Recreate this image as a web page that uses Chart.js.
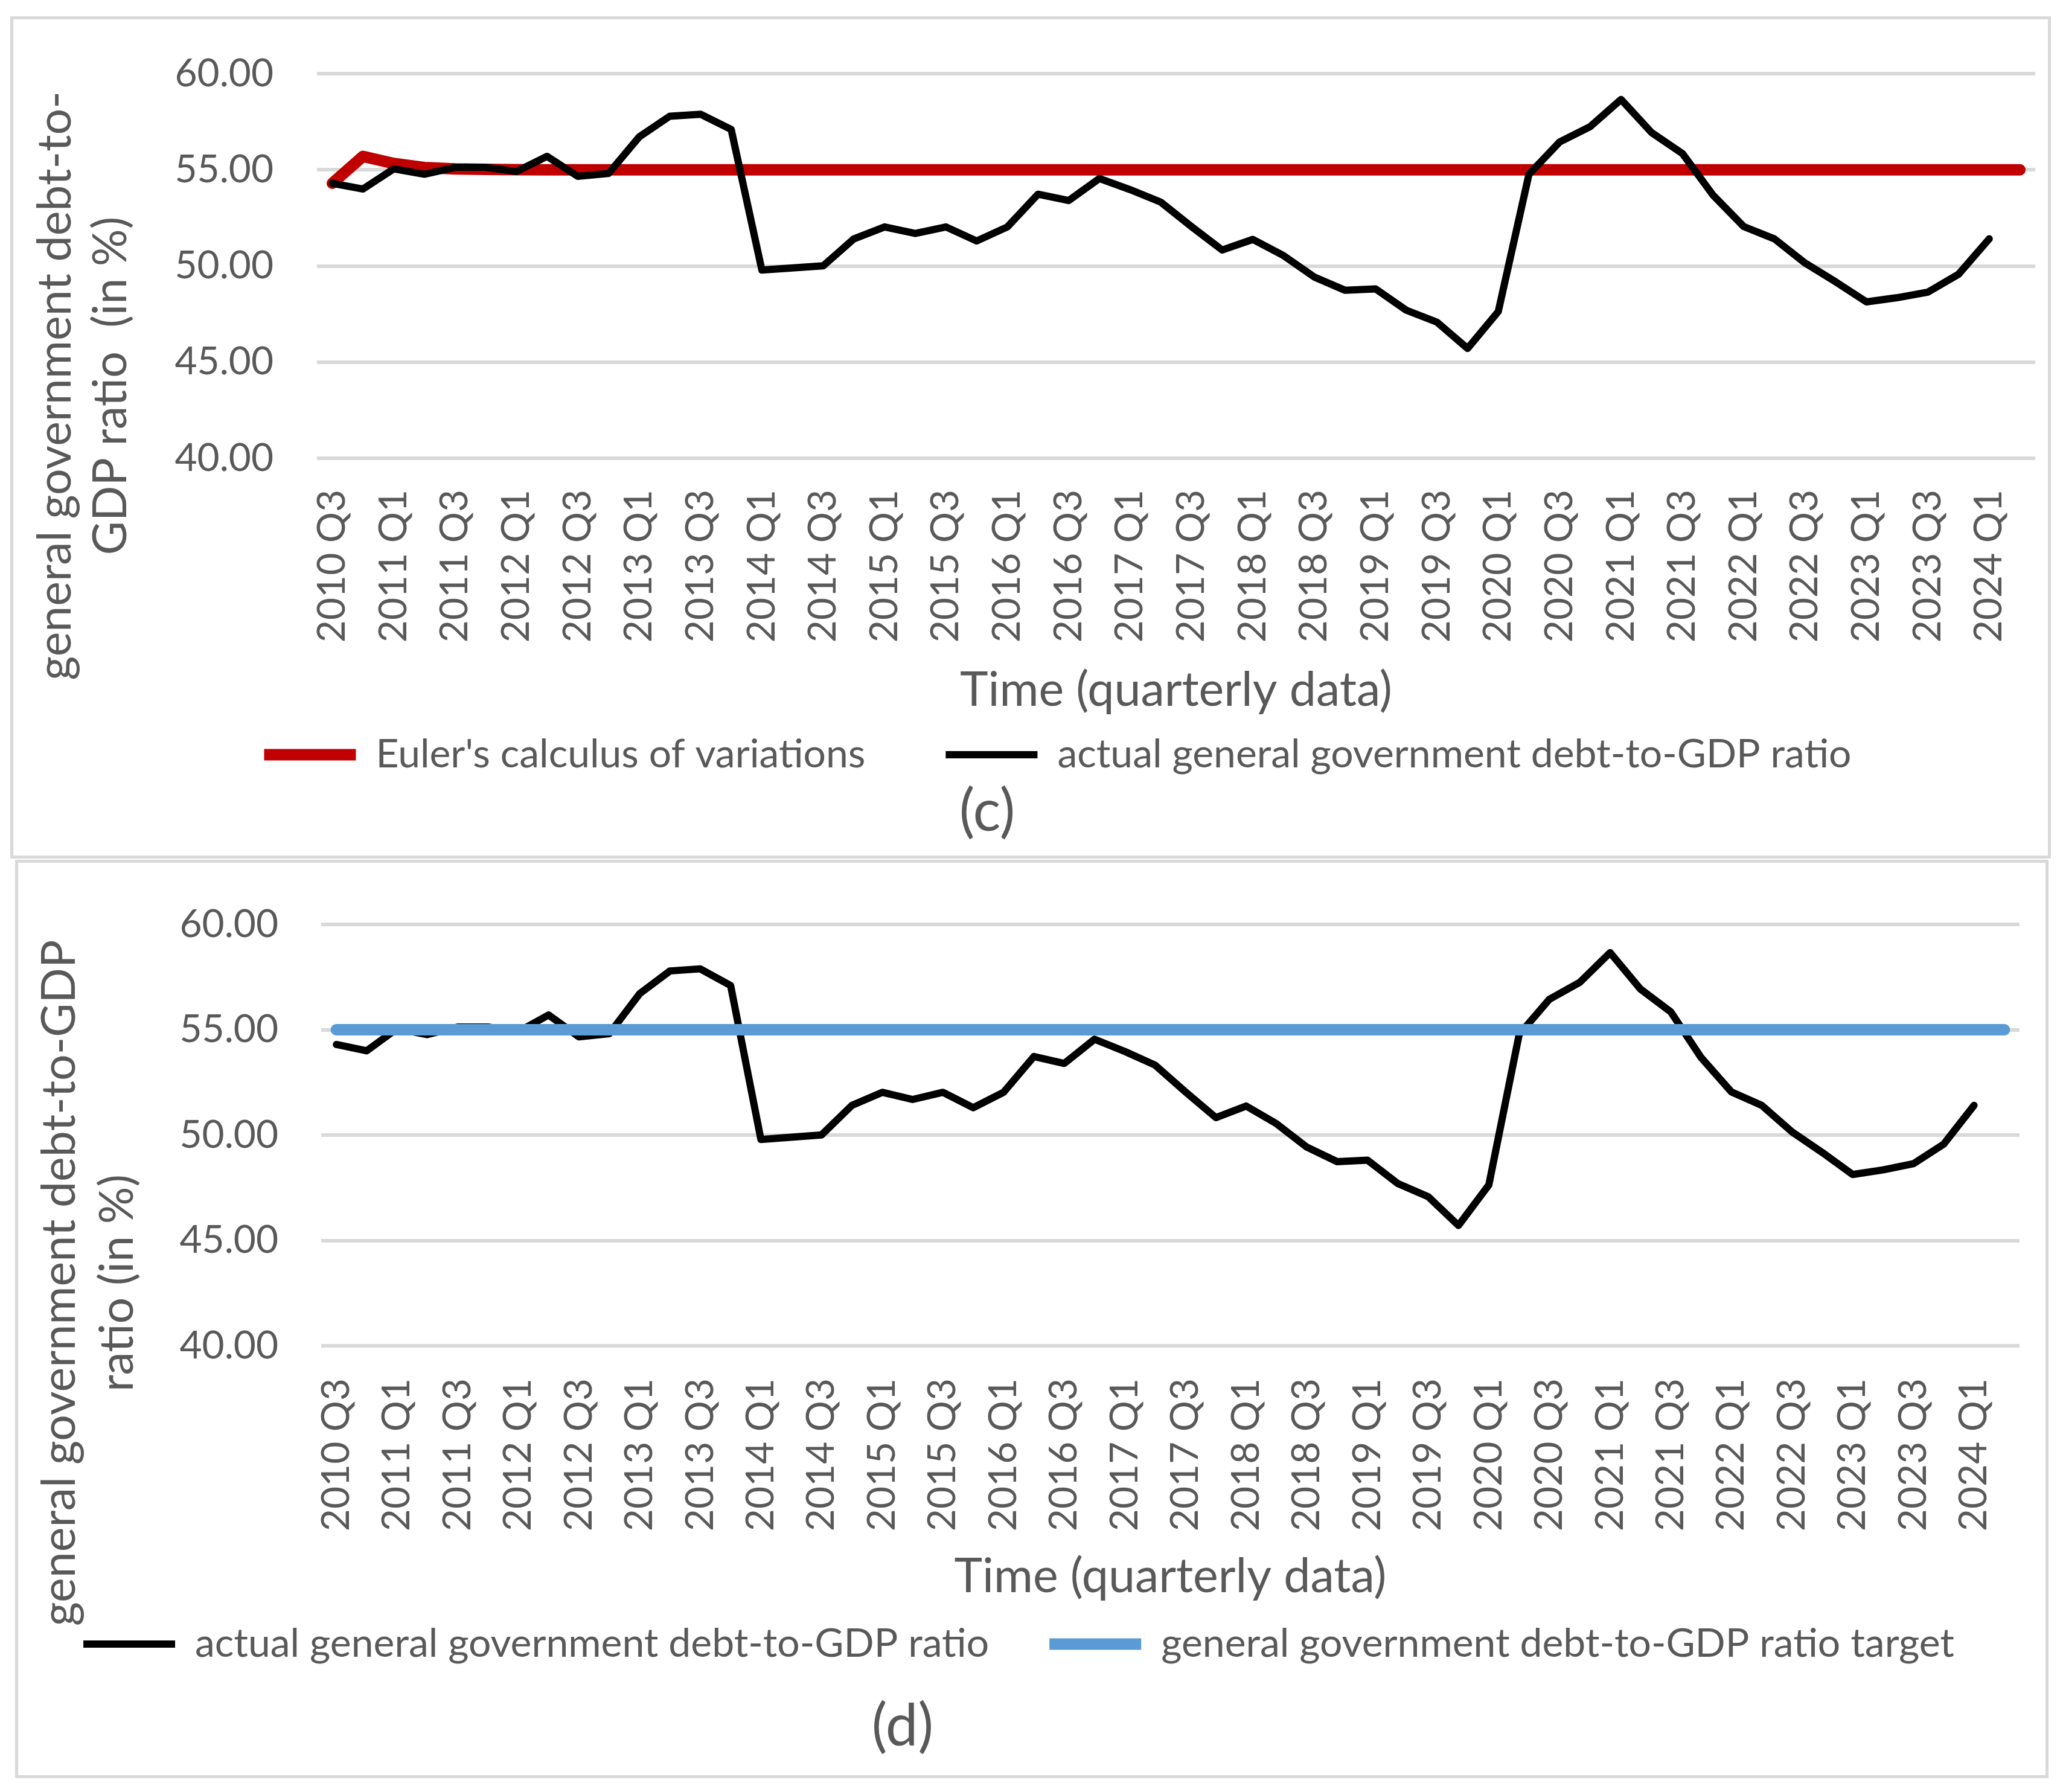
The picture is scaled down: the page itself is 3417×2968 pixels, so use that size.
<!DOCTYPE html>
<html>
<head>
<meta charset="utf-8">
<title>general government debt-to-GDP ratio</title>
<script src="https://cdn.jsdelivr.net/npm/chart.js@4.4.1/dist/chart.umd.min.js"></script>
<style>
  html, body { margin: 0; padding: 0; background: #fff; }
  body { width: 3417px; height: 2968px; position: relative; overflow: hidden; }
  .panel { position: absolute; box-sizing: border-box; border: 5px solid #d9d9d9; background: #fff; }
  #panelC { left: 17px; top: 27px; width: 3380px; height: 1395px; }
  #panelD { left: 25px; top: 1424px; width: 3368px; height: 1521px; }
  canvas { display: block; }
</style>
</head>
<body>
<div class="panel" id="panelC"><canvas id="chartC" width="3370" height="1385" style="width:3370px;height:1385px"></canvas></div>
<div class="panel" id="panelD"><canvas id="chartD" width="3358" height="1511" style="width:3358px;height:1511px"></canvas></div>
<script>
// 季度类目（2010 Q3 – 2024 Q2）
const quarters = [
    '2010 Q3', '2010 Q4',
    '2011 Q1', '2011 Q2', '2011 Q3', '2011 Q4',
    '2012 Q1', '2012 Q2', '2012 Q3', '2012 Q4',
    '2013 Q1', '2013 Q2', '2013 Q3', '2013 Q4',
    '2014 Q1', '2014 Q2', '2014 Q3', '2014 Q4',
    '2015 Q1', '2015 Q2', '2015 Q3', '2015 Q4',
    '2016 Q1', '2016 Q2', '2016 Q3', '2016 Q4',
    '2017 Q1', '2017 Q2', '2017 Q3', '2017 Q4',
    '2018 Q1', '2018 Q2', '2018 Q3', '2018 Q4',
    '2019 Q1', '2019 Q2', '2019 Q3', '2019 Q4',
    '2020 Q1', '2020 Q2', '2020 Q3', '2020 Q4',
    '2021 Q1', '2021 Q2', '2021 Q3', '2021 Q4',
    '2022 Q1', '2022 Q2', '2022 Q3', '2022 Q4',
    '2023 Q1', '2023 Q2', '2023 Q3', '2023 Q4',
    '2024 Q1', '2024 Q2'
];

// 横轴上显示的标签（每隔一个季度）
const xTickLabels = [
    '2010 Q3', '2011 Q1', '2011 Q3', '2012 Q1', '2012 Q3', '2013 Q1', '2013 Q3',
    '2014 Q1', '2014 Q3', '2015 Q1', '2015 Q3', '2016 Q1', '2016 Q3', '2017 Q1',
    '2017 Q3', '2018 Q1', '2018 Q3', '2019 Q1', '2019 Q3', '2020 Q1', '2020 Q3',
    '2021 Q1', '2021 Q3', '2022 Q1', '2022 Q3', '2023 Q1', '2023 Q3', '2024 Q1'
];

// 纵轴刻度
const yTicks = [40, 45, 50, 55, 60];

// 实际债务率（到 2024 Q1）
const actualDebt = [
    54.30, 54.00, 55.05, 54.77, 55.13, 55.13, 54.91, 55.70, 54.66, 54.81,
    56.71, 57.79, 57.89, 57.10, 49.79, 49.90, 50.01, 51.41, 52.03, 51.69,
    52.03, 51.30, 52.03, 53.73, 53.40, 54.55, 53.97, 53.32, 52.05, 50.83,
    51.38, 50.54, 49.43, 48.74, 48.81, 47.70, 47.08, 45.71, 47.63, 54.77,
    56.45, 57.25, 58.66, 56.93, 55.85, 53.68, 52.05, 51.41, 50.15, 49.17,
    48.13, 48.35, 48.64, 49.57, 51.41
];

// 欧拉变分法路径
const eulerPath = [
    54.30, 55.70, 55.33, 55.12, 55.05, 55.02, 55.01, 55.00, 55.00, 55.00,
    55.00, 55.00, 55.00, 55.00, 55.00, 55.00, 55.00, 55.00, 55.00, 55.00,
    55.00, 55.00, 55.00, 55.00, 55.00, 55.00, 55.00, 55.00, 55.00, 55.00,
    55.00, 55.00, 55.00, 55.00, 55.00, 55.00, 55.00, 55.00, 55.00, 55.00,
    55.00, 55.00, 55.00, 55.00, 55.00, 55.00, 55.00, 55.00, 55.00, 55.00,
    55.00, 55.00, 55.00, 55.00, 55.00, 55.00
];

// 债务率目标
const debtTarget = [
    55, 55, 55, 55, 55, 55, 55, 55, 55, 55,
    55, 55, 55, 55, 55, 55, 55, 55, 55, 55,
    55, 55, 55, 55, 55, 55, 55, 55, 55, 55,
    55, 55, 55, 55, 55, 55, 55, 55, 55, 55,
    55, 55, 55, 55, 55, 55, 55, 55, 55, 55,
    55, 55, 55, 55, 55, 55
];

// 样式
const TEXT_COLOR = '#595959';
const GRID_COLOR = '#d9d9d9';
const FONT_FAMILY = 'Lato, "Open Sans", sans-serif';
const TICK_SIZE = 64;
const LEGEND_SIZE = 66;
const X_TITLE_SIZE = 79;
const Y_TITLE_SIZE = 77;
const TAG_SIZE = 96;

// 画布上的版面位置（像素）
const panelLayouts = {
    c: {
        width: 3370, height: 1385, padLeft: 111,
        plotLeft: 503, plotRight: 3349, plotTop: 90, plotBottom: 727,
        xTickPad: 52, yTickPad: 72, xTitleY: 1112,
        legendY: 1218, legendGap: 133,
        yTitle: ['general government debt-to-', 'GDP ratio  (in %)'],
        yTitleX: 70, yTitleGap: 92, yTitleY: 607,
        tag: '(c)', tagX: 1613, tagY: 1313
    },
    d: {
        width: 3358, height: 1511, padLeft: 0,
        plotLeft: 502, plotRight: 3315, plotTop: 102, plotBottom: 800,
        xTickPad: 54, yTickPad: 71, xTitleY: 1183,
        legendY: 1294, legendGap: 100,
        yTitle: ['general government debt-to-GDP', 'ratio (in %)'],
        yTitleX: 69, yTitleGap: 96, yTitleY: 696,
        tag: '(d)', tagX: 1465, tagY: 1431
    }
};

// 纵轴标题与面板编号
const panelTextPlugin = {
    id: 'panelText',
    afterDraw(chart, args, opts) {
        const ctx = chart.ctx;
        ctx.save();
        ctx.fillStyle = TEXT_COLOR;
        ctx.textAlign = 'center';
        ctx.textBaseline = 'middle';

        ctx.save();
        ctx.font = Y_TITLE_SIZE + 'px ' + FONT_FAMILY;
        ctx.translate(opts.yTitleX, opts.yTitleY);
        ctx.rotate(-Math.PI / 2);
        opts.yTitle.forEach((line, i) => ctx.fillText(line, 0, i * opts.yTitleGap));
        ctx.restore();

        ctx.font = TAG_SIZE + 'px ' + FONT_FAMILY;
        ctx.fillText(opts.tag, opts.tagX, opts.tagY);
        ctx.restore();
    }
};

function buildOptions(L) {
    const padRight = L.width - L.plotRight;
    const legendTop = L.legendY - L.legendGap - LEGEND_SIZE / 2;
    const legendHeight = LEGEND_SIZE + L.legendGap + 10;
    const titleLineHeight = X_TITLE_SIZE * 1.2;

    return {
        responsive: false,
        animation: false,
        devicePixelRatio: 1,
        layout: {
            padding: {
                left: L.padLeft,
                right: padRight,
                top: L.plotTop,
                bottom: L.height - legendTop - legendHeight
            }
        },
        elements: {
            point: { radius: 0, hoverRadius: 0 },
            line: { tension: 0, borderCapStyle: 'round', borderJoinStyle: 'round' }
        },
        plugins: {
            legend: {
                position: 'bottom',
                labels: {
                    color: TEXT_COLOR,
                    font: { family: FONT_FAMILY, size: LEGEND_SIZE },
                    usePointStyle: true,
                    pointStyle: 'line',
                    pointStyleWidth: 152,
                    padding: L.legendGap,
                    sort: (a, b) => a.datasetIndex - b.datasetIndex
                }
            },
            tooltip: { enabled: false },
            panelText: {
                yTitle: L.yTitle, yTitleX: L.yTitleX, yTitleY: L.yTitleY, yTitleGap: L.yTitleGap,
                tag: L.tag, tagX: L.tagX, tagY: L.tagY
            }
        },
        scales: {
            x: {
                offset: true,
                grid: { display: false, drawTicks: false },
                border: { display: false },
                ticks: {
                    autoSkip: false,
                    minRotation: 90,
                    maxRotation: 90,
                    padding: L.xTickPad,
                    color: TEXT_COLOR,
                    font: { family: FONT_FAMILY, size: TICK_SIZE },
                    callback(value, index) {
                        const label = quarters[index];
                        return xTickLabels.includes(label) ? label : '';
                    }
                },
                title: {
                    display: true,
                    text: 'Time (quarterly data)',
                    color: TEXT_COLOR,
                    font: { family: FONT_FAMILY, size: X_TITLE_SIZE, lineHeight: 1.2 },
                    padding: { top: 0, bottom: legendTop - L.xTitleY - titleLineHeight / 2 }
                },
                afterFit(scale) {
                    scale.height = legendTop - L.plotBottom;
                    scale.paddingLeft = 0;
                    scale.paddingRight = 0;
                }
            },
            y: {
                min: yTicks[0],
                max: yTicks[yTicks.length - 1],
                grid: { color: GRID_COLOR, lineWidth: 6, drawTicks: false },
                border: { display: false },
                ticks: {
                    stepSize: yTicks[1] - yTicks[0],
                    padding: L.yTickPad,
                    color: TEXT_COLOR,
                    font: { family: FONT_FAMILY, size: TICK_SIZE },
                    callback: v => v.toFixed(2)
                },
                afterFit(scale) {
                    scale.width = L.plotLeft - L.padLeft;
                    scale.paddingTop = 0;
                    scale.paddingBottom = 0;
                }
            }
        }
    };
}

function lineSet(label, data, color, width, order) {
    return {
        label: label,
        data: data,
        borderColor: color,
        backgroundColor: color,
        borderWidth: width,
        borderCapStyle: 'round',
        borderJoinStyle: 'round',
        pointRadius: 0,
        fill: false,
        order: order
    };
}

// (c) 欧拉变分法 vs 实际
new Chart(document.getElementById('chartC'), {
    type: 'line',
    data: {
        labels: quarters,
        datasets: [
            lineSet("Euler's calculus of variations", eulerPath, '#c00000', 19, 1),
            lineSet('actual general government debt-to-GDP ratio', actualDebt, '#000000', 12, 0)
        ]
    },
    options: buildOptions(panelLayouts.c),
    plugins: [panelTextPlugin]
});

// (d) 实际 vs 目标
new Chart(document.getElementById('chartD'), {
    type: 'line',
    data: {
        labels: quarters,
        datasets: [
            lineSet('actual general government debt-to-GDP ratio', actualDebt, '#000000', 12, 1),
            lineSet('general government debt-to-GDP ratio target', debtTarget, '#5b9bd5', 19, 0)
        ]
    },
    options: buildOptions(panelLayouts.d),
    plugins: [panelTextPlugin]
});
</script>
</body>
</html>
